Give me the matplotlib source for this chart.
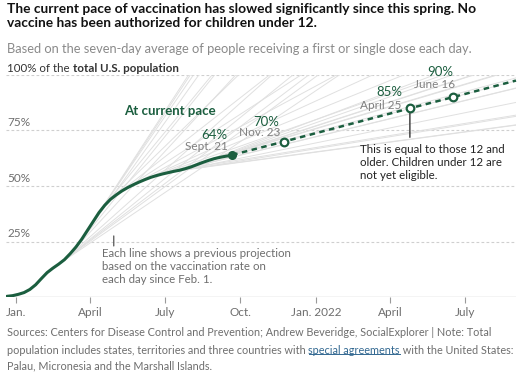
#!/usr/bin/env python3
"""
Share of the U.S. population with a first dose, plus the 'current pace'
projection and the fan of earlier projections behind it.
"""

import numpy as np, pandas as pd
import matplotlib
matplotlib.use("Agg")
import matplotlib.pyplot as plt
import matplotlib.dates as mdates
from matplotlib.lines import Line2D
from matplotlib.transforms import IdentityTransform

plt.rcParams["font.family"] = ["Lato", "DejaVu Sans"]

W, H  = 524, 377
GREEN = "#1b5e3f"
FAN   = "#e0e0e0"
GRID  = "#cfcfcf"
GREY  = "#6e6e6e"
BLUE  = "#326891"

# ── data ───────────────────────────────────────────────────────────────────
curve_dates = list(pd.date_range("2020-12-21", "2021-09-20", freq="7D")) + [pd.Timestamp("2021-09-21")]
curve_pct = [0.3, 0.6, 1.2, 2.0, 3.4, 5.5, 8.3,          # Dec 21 .. Feb 1
             11.0, 13.0, 14.8, 16.8,                     # Feb 8 .. Mar 1
             19.5, 22.5, 26.0, 30.0,                     # Mar 8 .. Mar 29
             34.0, 38.0, 41.3, 44.0,                     # Apr
             46.0, 47.8, 49.3, 50.6, 51.8,               # May
             52.9, 53.9, 54.7, 55.4,                     # June
             56.0, 56.6, 57.1, 57.8,                     # July
             58.6, 59.6, 60.6, 61.5, 62.3,               # Aug
             62.9, 63.4, 63.8, 64.0]                     # Sept

# daily pace (% of population per day) behind each earlier projection,
# one line per week starting Feb. 1
fan_rate = [0.30, 0.28, 0.25, 0.27,
            0.33, 0.40, 0.46, 0.52, 0.56,
            0.57, 0.54, 0.45, 0.36,
            0.29, 0.24, 0.20, 0.17, 0.15,
            0.13, 0.11, 0.09, 0.075,
            0.06, 0.05, 0.05, 0.06,
            0.09, 0.12, 0.14, 0.13, 0.12,
            0.11, 0.10, 0.097]
FAN_FIRST = 6   # index of Feb. 1 in curve_dates

proj_dates = pd.to_datetime(["2021-09-21", "2021-11-23", "2022-04-25", "2022-06-16", "2022-09-01"])
proj_pct   = [64, 70, 85, 90, 97.5]
mile_pct   = ["64%", "70%", "85%", "90%"]
mile_date  = ["Sept. 21", "Nov. 23", "April 25", "June 16"]
# label offsets in pixels: (pct dx, pct dy, date dx, date dy)
mile_off   = [(-5, 20, -4, 8), (-5, 20, -4, 9), (-8, 16, -9, 3), (1, 25, 2, 13)]

tick_dates  = pd.to_datetime(["2021-01-01", "2021-04-01", "2021-07-01", "2021-10-01",
                              "2022-01-01", "2022-04-01", "2022-07-01"])
tick_labels = ["Jan.", "April", "July", "Oct.", "Jan. 2022", "April", "July"]
grid_pct    = [25, 50, 75, 100]

XMIN, XMAX = pd.Timestamp("2020-12-20"), pd.Timestamp("2022-09-01")

# ── figure ────────────────────────────────────────────────────────────────
fig = plt.figure(figsize=(W / 100, H / 100), dpi=100)
ax  = fig.add_axes([6 / W, 1 - 297 / H, 510 / W, 222 / H])
ax.set_xlim(XMIN, XMAX)
ax.set_ylim(0, 100)
for s in ax.spines.values():
    s.set_visible(False)
ax.set_yticks([])

for g in grid_pct:
    ax.axhline(g, color=GRID, lw=0.8, ls=(0, (2.5, 2)), zorder=0)
    if g < 100:
        ax.annotate(f"{g}%", xy=(0, g), xycoords=ax.get_yaxis_transform(),
                    xytext=(1, 8), textcoords="offset pixels", va="center",
                    fontsize=8.5, color=GREY)
ax.axhline(0, color="#c8c8c8", lw=1, zorder=0)

ax.set_xticks(tick_dates)
ax.set_xticklabels(tick_labels)
ax.tick_params(axis="x", length=4, width=0.8, color="#9a9a9a", labelcolor=GREY,
               labelsize=8.5, pad=3)

# ── fan of earlier projections, each stopped at 100% ──────────────────────
xmax_num = mdates.date2num(XMAX)
for d, v, r in zip(curve_dates[FAN_FIRST:], curve_pct[FAN_FIRST:], fan_rate):
    x0 = mdates.date2num(d)
    x1 = min(xmax_num, x0 + (100 - v) / r)
    ax.plot([x0, x1], [v, v + r * (x1 - x0)], color=FAN, lw=0.7, zorder=1)

# ── actual curve + current pace ──────────────────────────────────────────
ax.plot(curve_dates, curve_pct, color=GREEN, lw=2.2, solid_capstyle="round", zorder=4)
ax.plot(proj_dates, proj_pct, color=GREEN, lw=1.8, ls=(0, (2.2, 1.8)), zorder=3, clip_on=False)
ax.plot(proj_dates[:1], proj_pct[:1], "o", ms=5.5, color=GREEN, zorder=5, clip_on=False)
ax.plot(proj_dates[1:4], proj_pct[1:4], "o", ms=5.5, mfc="white", mec=GREEN, mew=1.6,
        zorder=5, clip_on=False)

for d, v, p, t, (pdx, pdy, ddx, ddy) in zip(proj_dates, proj_pct, mile_pct, mile_date, mile_off):
    ax.annotate(p, xy=(d, v), xytext=(pdx, pdy), textcoords="offset pixels",
                ha="right", va="center", fontsize=9.5, color=GREEN)
    ax.annotate(t, xy=(d, v), xytext=(ddx, ddy), textcoords="offset pixels",
                ha="right", va="center", fontsize=8.5, color="#808080")

ax.annotate("At current pace", xy=(proj_dates[0], proj_pct[0]), xytext=(-62, 44),
            textcoords="offset pixels", ha="center", va="center",
            fontsize=9.5, fontweight="bold", color=GREEN)

# callout under April 25
ax.annotate("", xy=(proj_dates[2], proj_pct[2]), xytext=(0, -29), textcoords="offset pixels",
            arrowprops=dict(arrowstyle="-", color="#333333", lw=1, shrinkA=0, shrinkB=3.5))
ax.annotate("This is equal to those 12 and\nolder. Children under 12 are\nnot yet eligible.",
            xy=(proj_dates[2], proj_pct[2]), xytext=(-50, -36), textcoords="offset pixels",
            ha="left", va="top", fontsize=8.3, color="#222222", linespacing=1.2)

# callout for the fan
fan_pt = (pd.Timestamp("2021-04-30"), 27.5)
ax.annotate("", xy=fan_pt, xytext=(0, -10), textcoords="offset pixels",
            arrowprops=dict(arrowstyle="-", color="#555555", lw=0.9, shrinkA=0, shrinkB=0))
ax.annotate("Each line shows a previous projection\nbased on the vaccination rate on\neach day since Feb. 1.",
            xy=fan_pt, xytext=(-12, -12), textcoords="offset pixels",
            ha="left", va="top", fontsize=8.3, color=GREY, linespacing=1.2)

# ── texts around the chart ───────────────────────────────────────────────
def fx(px): return px / W
def fy(py): return 1 - py / H

fig.text(fx(7), fy(3), "The current pace of vaccination has slowed significantly since this spring. No\n"
         "vaccine has been authorized for children under 12.",
         ha="left", va="top", fontsize=9.9, fontweight="bold", color="#121212", linespacing=1.22)
fig.text(fx(7), fy(49), "Based on the seven-day average of people receiving a first or single dose each day.",
         ha="left", va="center", fontsize=9.3, color="#8a8a8a")

t = fig.text(fx(7), fy(68), "100% of the ", ha="left", va="center", fontsize=8.3, color="#333333")
ax.annotate("total U.S. population", xy=(1, 0.5), xycoords=t, ha="left", va="center",
            fontsize=8.3, fontweight="bold", color="#333333", annotation_clip=False)

FOOT = dict(fontsize=7.8, color=GREY, va="center", ha="left")
fig.text(fx(7), fy(333), "Sources: Centers for Disease Control and Prevention; Andrew Beveridge, "
         "SocialExplorer | Note: Total", **FOOT)
a = fig.text(fx(7), fy(350), "population includes states, territories and three countries with ", **FOOT)
link = ax.annotate("special agreements", xy=(1, 0.5), xycoords=a, annotation_clip=False,
                   **{**FOOT, "color": BLUE})
ax.annotate(" with the United States:", xy=(1, 0.5), xycoords=link, annotation_clip=False, **FOOT)
fig.text(fx(7), fy(366), "Palau, Micronesia and the Marshall Islands.", **FOOT)

# underline the link
fig.canvas.draw()
bb = link.get_window_extent(fig.canvas.get_renderer())
fig.add_artist(Line2D([bb.x0, bb.x1], [bb.y0 + 1.5, bb.y0 + 1.5], color=BLUE, lw=0.7,
                      transform=IdentityTransform()))

fig.savefig("out.png", dpi=100, facecolor="white")
